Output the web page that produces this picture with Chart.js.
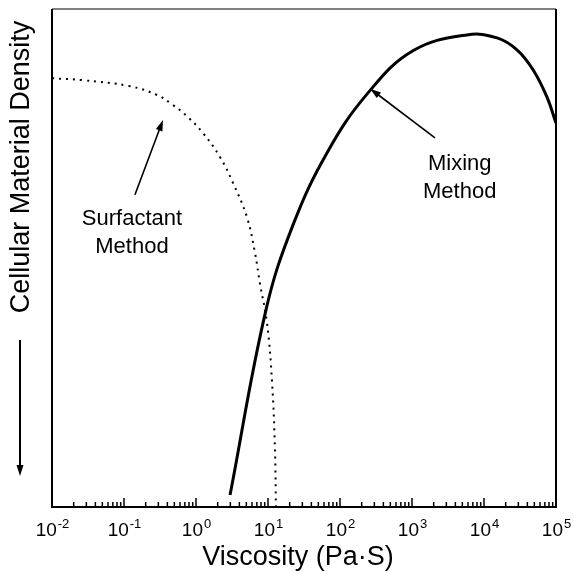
<!DOCTYPE html>
<html>
<head>
<meta charset="utf-8">
<script src="https://cdn.jsdelivr.net/npm/chart.js@4.4.1/dist/chart.umd.min.js"></script>
<style>
  html, body { margin: 0; padding: 0; background: #fff; }
  #wrap { width: 574px; height: 574px; }
</style>
</head>
<body>
<div id="wrap"><canvas id="viscChart" width="574" height="574"></canvas></div>
<script>
// decade exponents shown under the x axis
const tickExponents = [-2, -1, 0, 1, 2, 3, 4, 5];

// mixing method curve (solid)
const mixingViscosity = [2.97, 9.38, 22.2, 65.9, 237, 1030, 5800, 15200, 28700, 48000, 75000, 100000];
const mixingDensity   = [2.4, 39.6, 56.6, 71.1, 82.9, 91.6, 94.8, 94.2, 91.8, 87.8, 82.3, 77.1];

// surfactant method curve (dotted)
const surfactantViscosity = [0.01, 0.027, 0.121, 0.29, 0.48, 0.77, 1.25, 2.15, 3.26, 5.1, 6.6, 7.7, 9.7, 11.4, 12.5, 12.9];
const surfactantDensity   = [86.1, 85.7, 84.5, 82.7, 80.7, 78.3, 75.1, 70.3, 65.1, 58.2, 51.0, 45.0, 36.9, 24.9, 11.4, 0];

const FONT = '"Liberation Sans", Arial, Helvetica, sans-serif';

function toPoints(xs, ys) {
    return xs.map(function (x, i) { return { x: x, y: ys[i] }; });
}

function arrow(ctx, x0, y0, x1, y1) {
    const ang = Math.atan2(y1 - y0, x1 - x0);
    const len = 11, half = 3.5;
    ctx.beginPath();
    ctx.moveTo(x0, y0);
    ctx.lineTo(x1 - Math.cos(ang) * len * 0.8, y1 - Math.sin(ang) * len * 0.8);
    ctx.stroke();
    ctx.beginPath();
    ctx.moveTo(x1, y1);
    ctx.lineTo(x1 - Math.cos(ang) * len - Math.sin(ang) * half, y1 - Math.sin(ang) * len + Math.cos(ang) * half);
    ctx.lineTo(x1 - Math.cos(ang) * len + Math.sin(ang) * half, y1 - Math.sin(ang) * len - Math.cos(ang) * half);
    ctx.closePath();
    ctx.fill();
}

// frame, inward log ticks, labels and annotations
const decorations = {
    id: 'decorations',
    afterDraw: function (chart) {
        const ctx = chart.ctx;
        const a = chart.chartArea;
        const xs = chart.scales.x;
        const ys = chart.scales.y;
        ctx.save();
        ctx.strokeStyle = '#000';
        ctx.fillStyle = '#000';

        // frame
        ctx.lineWidth = 1;
        ctx.beginPath();
        ctx.moveTo(a.left, a.top);
        ctx.lineTo(a.right, a.top);
        ctx.stroke();
        ctx.lineWidth = 2;
        ctx.beginPath();
        ctx.moveTo(a.right, a.top);
        ctx.lineTo(a.right, a.bottom);
        ctx.lineTo(a.left, a.bottom);
        ctx.lineTo(a.left, a.top);
        ctx.stroke();

        // ticks pointing up from the bottom axis
        ctx.lineWidth = 1.5;
        for (let e = tickExponents[0]; e < tickExponents[tickExponents.length - 1]; e++) {
            for (let m = 2; m <= 10; m++) {
                const px = xs.getPixelForValue(m * Math.pow(10, e));
                const h = m === 10 ? 9 : 5;
                ctx.beginPath();
                ctx.moveTo(px, a.bottom);
                ctx.lineTo(px, a.bottom - h);
                ctx.stroke();
            }
        }

        // decade labels with superscript exponents
        ctx.textBaseline = 'alphabetic';
        tickExponents.forEach(function (e) {
            const px = xs.getPixelForValue(Math.pow(10, e));
            ctx.font = '19px ' + FONT;
            const wb = ctx.measureText('10').width;
            ctx.font = '13px ' + FONT;
            const sup = e < 0 ? '-' + Math.abs(e) : String(e);
            const we = ctx.measureText(sup).width;
            const x0 = px - (wb + we) / 2;
            ctx.font = '19px ' + FONT;
            ctx.textAlign = 'left';
            ctx.fillText('10', x0, a.bottom + 29);
            ctx.font = '13px ' + FONT;
            ctx.fillText(sup, x0 + wb + 1, a.bottom + 21);
        });

        // x axis title
        ctx.font = '27px ' + FONT;
        ctx.textAlign = 'center';
        ctx.fillText('Viscosity (Pa\u00b7S)', 298, a.bottom + 58);

        // y axis title with downward arrow
        ctx.save();
        ctx.translate(29, 167);
        ctx.rotate(-Math.PI / 2);
        ctx.font = '27px ' + FONT;
        ctx.textAlign = 'center';
        ctx.fillText('Cellular Material Density', 0, 0);
        ctx.restore();
        ctx.lineWidth = 2;
        arrow(ctx, 20, 340, 20, 476);

        // curve annotations
        ctx.font = '22px ' + FONT;
        ctx.textAlign = 'center';
        ctx.lineWidth = 1.6;
        arrow(ctx, xs.getPixelForValue(2085), ys.getPixelForValue(74.1),
                   xs.getPixelForValue(262), ys.getPixelForValue(84.0));
        ctx.fillText('Mixing', xs.getPixelForValue(4600), ys.getPixelForValue(67.7));
        ctx.fillText('Method', xs.getPixelForValue(4600), ys.getPixelForValue(62.0));

        arrow(ctx, xs.getPixelForValue(0.142), ys.getPixelForValue(62.7),
                   xs.getPixelForValue(0.348), ys.getPixelForValue(77.7));
        ctx.fillText('Surfactant', xs.getPixelForValue(0.129), ys.getPixelForValue(56.6));
        ctx.fillText('Method', xs.getPixelForValue(0.129), ys.getPixelForValue(51.0));

        ctx.restore();
    }
};

new Chart(document.getElementById('viscChart').getContext('2d'), {
    type: 'scatter',
    data: {
        datasets: [{
            label: 'Mixing Method',
            data: toPoints(mixingViscosity, mixingDensity),
            showLine: true,
            borderColor: '#000',
            borderWidth: 3,
            pointRadius: 0,
            tension: 0.4
        }, {
            label: 'Surfactant Method',
            data: toPoints(surfactantViscosity, surfactantDensity),
            showLine: true,
            borderColor: '#000',
            borderWidth: 2,
            borderDash: [2, 5],
            pointRadius: 0,
            tension: 0.4
        }]
    },
    options: {
        responsive: false,
        animation: false,
        layout: { padding: { left: 52, right: 18, top: 9, bottom: 67 } },
        scales: {
            x: { type: 'logarithmic', min: 0.01, max: 100000, display: false },
            y: { min: 0, max: 100, display: false }
        },
        plugins: {
            legend: { display: false },
            tooltip: { enabled: false }
        }
    },
    plugins: [decorations]
});
</script>
</body>
</html>
